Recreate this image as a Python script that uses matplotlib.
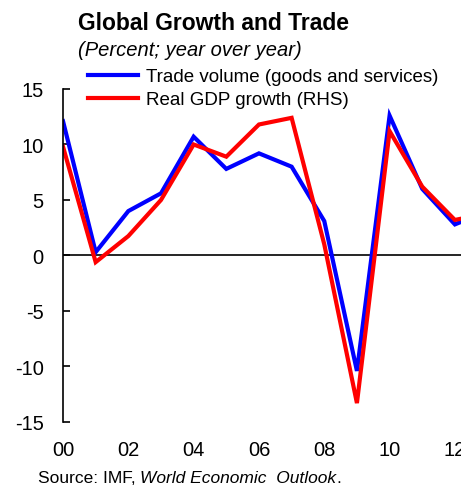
import matplotlib
matplotlib.use("Agg")
import matplotlib.pyplot as plt

years = [2000, 2001, 2002, 2003, 2004, 2005, 2006, 2007, 2008, 2009, 2010, 2011, 2012, 2013]
trade = [12.1, 0.3, 4.0, 5.6, 10.7, 7.8, 9.2, 8.0, 3.1, -10.4, 12.6, 6.0, 2.8, 4.0]
gdp = [9.8, -0.6, 1.75, 5.0, 10.0, 8.9, 11.8, 12.4, 1.0, -13.3, 11.2, 6.2, 3.2, 3.8]
xticks = [2000, 2002, 2004, 2006, 2008, 2010, 2012]
xlabels = ["00", "02", "04", "06", "08", "10", "12"]
yticks = [-15, -10, -5, 0, 5, 10, 15]

plt.rcParams['font.family'] = ['Liberation Sans', 'DejaVu Sans']

fig = plt.figure(figsize=(4.61, 4.89), dpi=100)
ax = fig.add_axes([0.1367, 0.135, 0.8633, 0.681])

ax.plot(years, trade, color='#0000FF', lw=3.0, label='Trade volume (goods and services)', solid_joinstyle='miter')
ax.plot(years, gdp, color='#FF0000', lw=3.0, label='Real GDP growth (RHS)', solid_joinstyle='miter')
ax.axhline(0, color='black', lw=1.2, zorder=1)

ax.set_xlim(2000, 2000 + (461 - 62.5) / 32.7)
ax.set_ylim(-15, 15)
ax.set_xticks(xticks)
ax.set_xticklabels(xlabels)
ax.set_yticks(yticks)
ax.set_yticklabels([str(v) for v in yticks])
for s in ['top', 'right', 'bottom']:
    ax.spines[s].set_visible(False)
ax.spines['left'].set_linewidth(1.2)
ax.tick_params(axis='y', direction='in', length=5, width=1.2, labelsize=14.5, pad=14)
ax.tick_params(axis='x', length=0, labelsize=14.5, pad=13)

leg = ax.legend(loc='upper left', bbox_to_anchor=(0.062, 1.062), frameon=False,
                fontsize=13.5, handlelength=2.7, handletextpad=0.4, labelspacing=0.3,
                borderaxespad=0, borderpad=0)

fig.text(0.169, 0.952, 'Global Growth and Trade', fontsize=16.5, fontweight='bold', va='center')
fig.text(0.169, 0.896, '(Percent; year over year)', fontsize=14.5, style='italic', va='center')

src = fig.text(0.082, 0.021, 'Source: IMF, ', fontsize=12.5, va='center')
fig.canvas.draw()
bb = src.get_window_extent()
t2 = fig.text(bb.x1 / fig.bbox.width, 0.021, 'World Economic  Outlook', fontsize=12.5, style='italic', va='center')
fig.canvas.draw()
bb2 = t2.get_window_extent()
fig.text(bb2.x1 / fig.bbox.width, 0.021, '.', fontsize=12.5, va='center')

fig.savefig('out.png', dpi=100)
